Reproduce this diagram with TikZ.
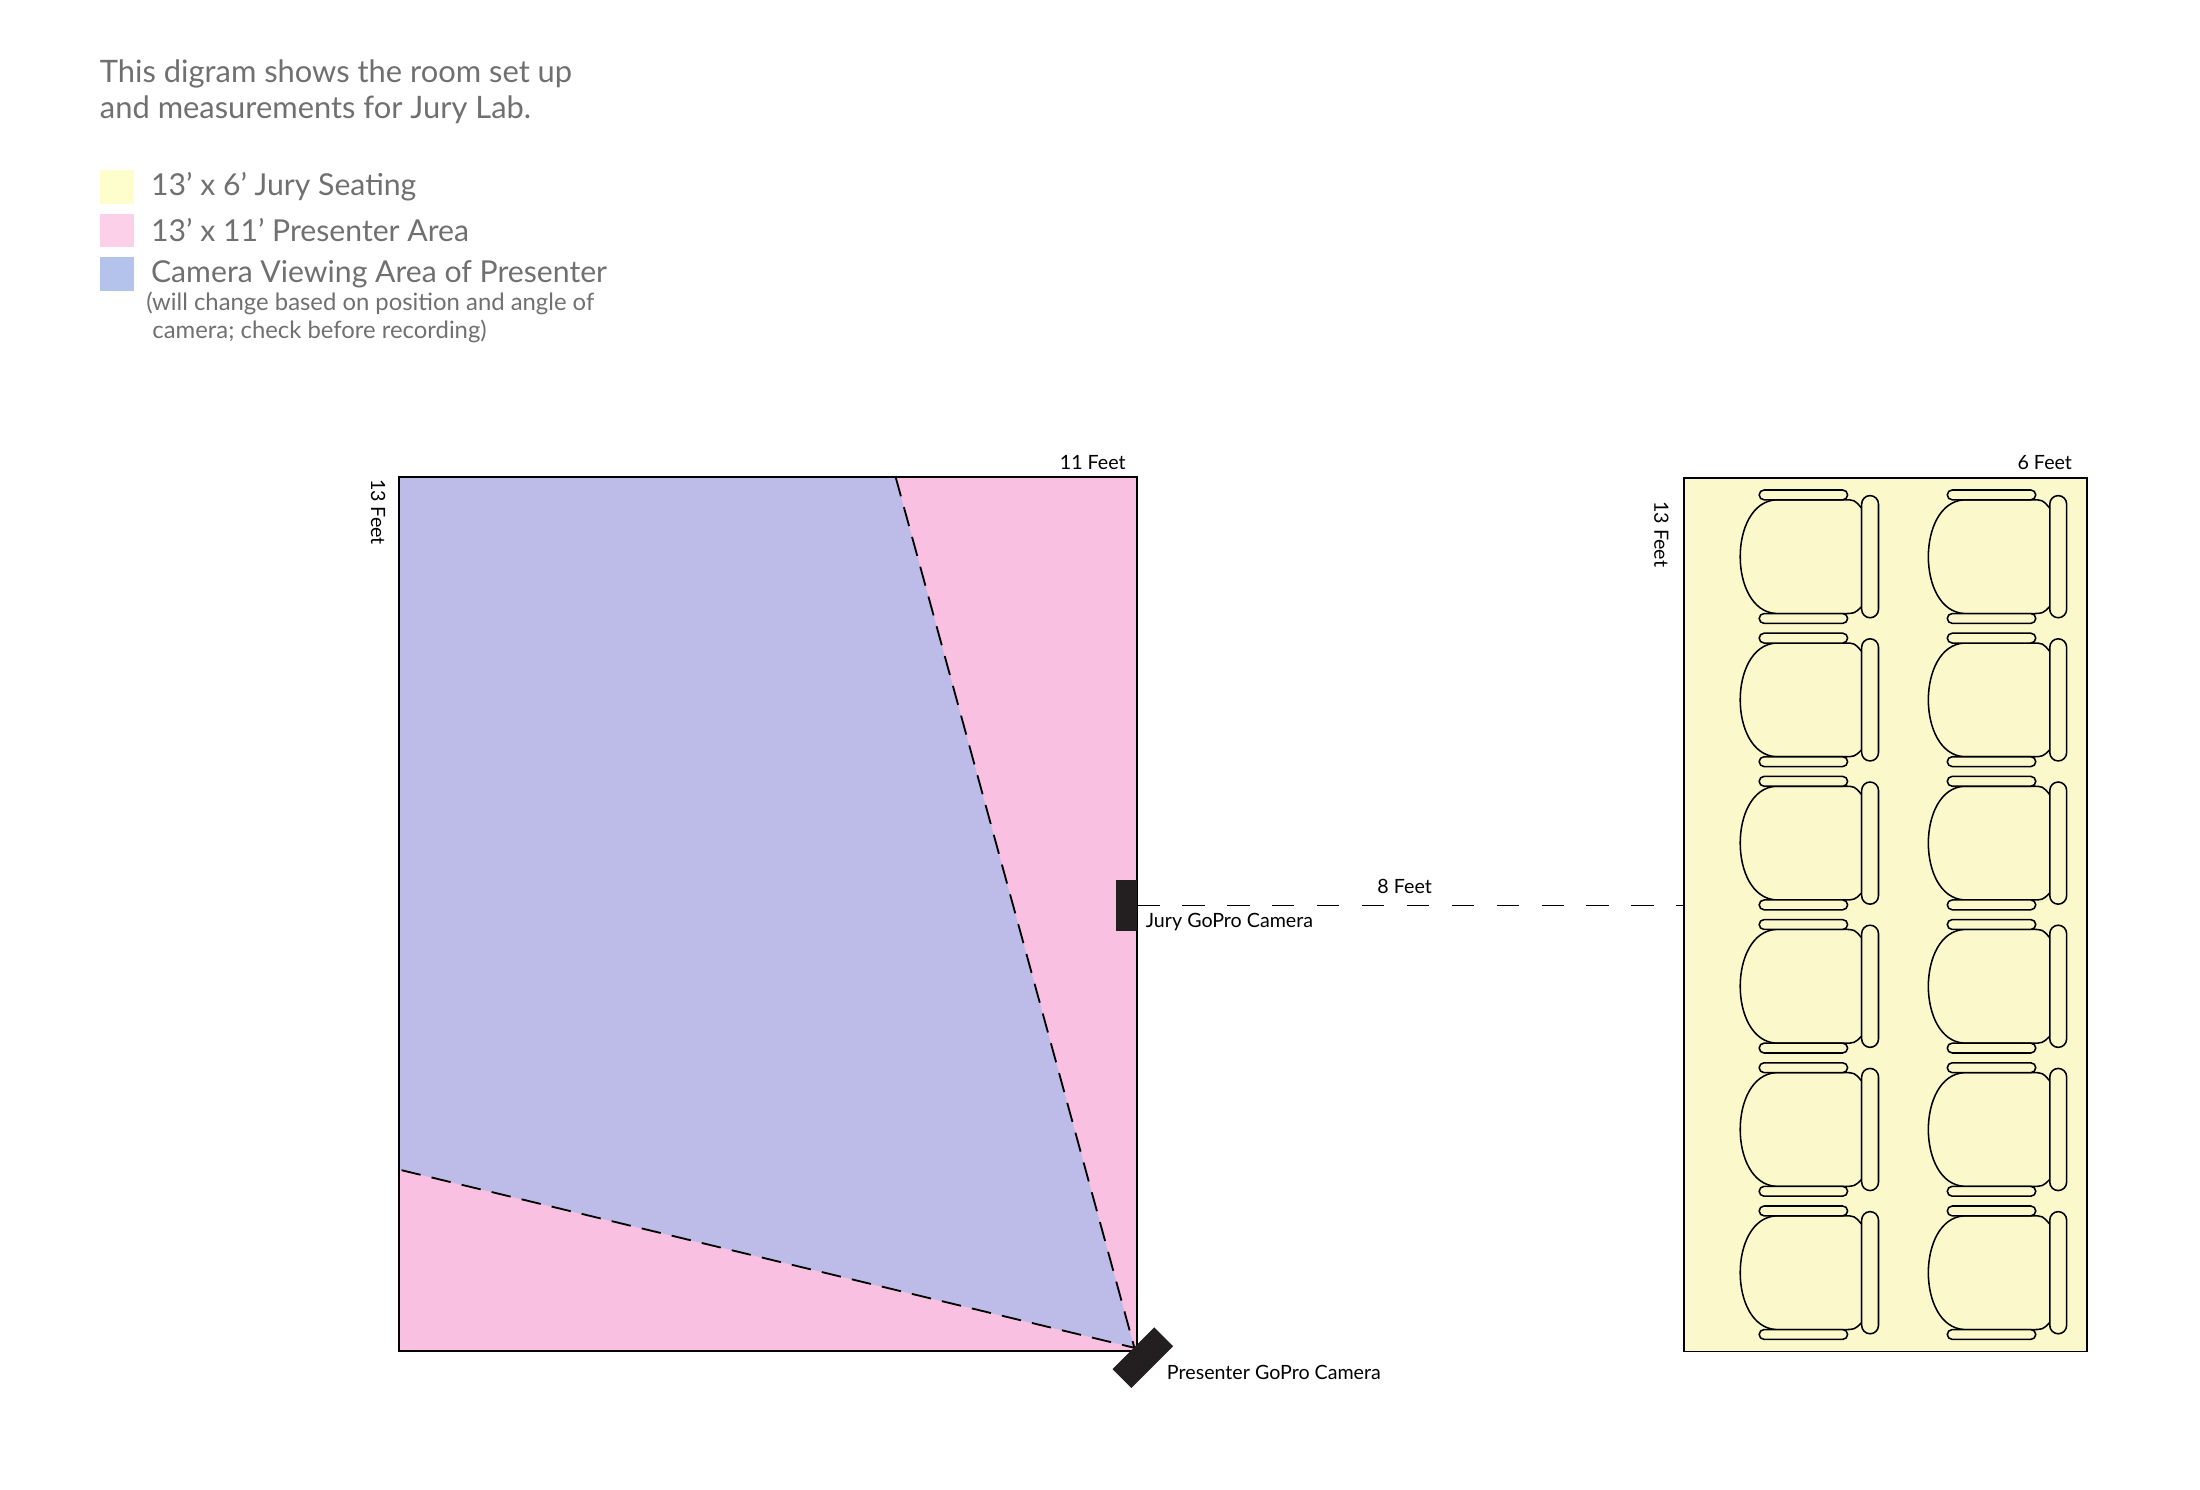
\documentclass[tikz,border=0pt]{standalone}
\usepackage{fontspec}
\setmainfont{Lato}
\usetikzlibrary{positioning}
\definecolor{seatyellow}{HTML}{FBF9CC}
\definecolor{keyyellow}{HTML}{FEFDCC}
\definecolor{roompink}{HTML}{F9C0E1}
\definecolor{keypink}{HTML}{FBD0E8}
\definecolor{viewblue}{HTML}{BDBCE8}
\definecolor{keyblue}{HTML}{B3C3EC}
\definecolor{notegray}{HTML}{707070}
\definecolor{camblack}{HTML}{231F20}
\tikzset{
	key/.style={minimum size=24pt, inner sep=0pt, anchor=north west},
	keytext/.style={anchor=west, text=notegray, font=\fontsize{21.5}{25}\selectfont, inner sep=0pt},
	dim/.style={font=\fontsize{14}{16}\selectfont, inner sep=0pt},
	wall/.style={draw=black, line width=1.3pt},
	sightline/.style={dashed, dash pattern=on 14pt off 8pt, line width=1.3pt},
	part/.style={draw=black, line width=1.1pt, fill=seatyellow},
}
% one armchair, top left corner of its top bar at #1
\newcommand{\armchair}[1]{
	\begin{scope}[shift={#1}]
		\draw[part] (12,7) .. controls (-22,9) and (-22,86) .. (12,88)
			-- (60,88) .. controls (68,88) .. (73,83) -- (73,13)
			.. controls (68,7) .. (60,7) -- cycle;
		\draw[part, rounded corners=3.5pt] (0,0) rectangle (63,7);
		\draw[part, rounded corners=3.5pt] (0,88) rectangle (63,95);
		\draw[part, rounded corners=6pt] (73,4) rectangle (85,91);
	\end{scope}
}
\begin{document}
\begin{tikzpicture}[x=1pt, y=-1pt]
	\useasboundingbox (0,0) rectangle (1567,1061);

	% heading and key
	\node[anchor=north west, text=notegray, align=left, inner sep=0pt,
		font=\fontsize{22}{26}\selectfont] (title) at (71,42)
		{This digram shows the room set up\\and measurements for Jury Lab.};
	\node[key, fill=keyyellow] (keyjury) at (71,121) {};
	\node[key, fill=keypink] (keyroom) at (71,152) {};
	\node[key, fill=keyblue] (keyview) at (71,183) {};
	\node[keytext, right=12pt of keyjury] {13’ x 6’ Jury Seating};
	\node[keytext, right=12pt of keyroom] {13’ x 11’ Presenter Area};
	\node[keytext, right=12pt of keyview] (viewtext) {Camera Viewing Area of Presenter};
	\node[anchor=north west, text=notegray, align=left, inner sep=0pt,
		font=\fontsize{17}{20}\selectfont] (note) at (104,208)
		{(will change based on position and angle of\\\ camera; check before recording)};

	% presenter area
	\fill[roompink] (284,340) rectangle (810,962);
	\fill[viewblue] (284,340) -- (638,340) -- (808,960) -- (284,833) -- cycle;
	\draw[sightline] (638,340) -- (808,960) -- (284,833);
	\draw[wall] (284,340) rectangle (810,962);
	\node[dim, anchor=south east] (roomwidth) at (802,335) {11 Feet};
	\node[dim, anchor=south west, rotate=-90] (roomdepth) at (264,341) {13 Feet};

	% cameras
	\node[fill=camblack, minimum width=15pt, minimum height=36pt, inner sep=0pt,
		anchor=east] (jurycam) at (810,645) {};
	\node[fill=camblack, minimum width=42pt, minimum height=19pt, inner sep=0pt,
		rotate=45] (prescam) at (814,967) {};
	\node[dim, anchor=north west] at (816,650) {Jury GoPro Camera};
	\node[dim, anchor=north west] at (831,972) {Presenter GoPro Camera};

	% jury seating
	\node[wall, fill=seatyellow, minimum width=287pt, minimum height=622pt,
		inner sep=0pt, anchor=north west] (seating) at (1199,340) {};
	\node[dim, anchor=south east] (seatwidth) at (1476,335) {6 Feet};
	\node[dim, anchor=south west, rotate=-90] (seatdepth) at (1178,357) {13 Feet};
	\foreach \row in {0,...,5}
		\foreach \col in {0,1}
			\armchair{(1253+134*\col, 349+102*\row)};

	\draw[sightline, dash pattern=on 16pt off 16pt] (jurycam.east) -- (jurycam.east -| seating.west)
		node[dim, midway, above=8pt, xshift=-4pt] {8 Feet};
\end{tikzpicture}
\end{document}
